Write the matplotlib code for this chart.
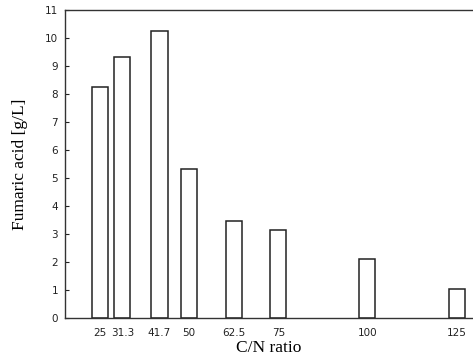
import matplotlib
matplotlib.use("Agg")
from matplotlib import pyplot as plt

cn_ratio = [25, 31.3, 41.7, 50, 62.5, 75, 100, 125]
cn_labels = ["25", "31.3", "41.7", "50", "62.5", "75", "100", "125"]
fumaric = [8.25, 9.32, 10.25, 5.31, 3.46, 3.14, 2.12, 1.05]

fig = plt.figure(figsize=(4.73, 3.63), dpi=100)
ax = fig.add_axes([65 / 473, 45 / 363, 408 / 473, 308 / 363])

ax.bar(cn_ratio, fumaric, width=4.5, facecolor="white", edgecolor="#222222", linewidth=1.1)

ax.set_xlim(15.2, 129.6)
ax.set_ylim(0, 11)
ax.set_yticks(range(0, 12))
ax.set_xticks(cn_ratio)
ax.set_xticklabels(cn_labels)

ax.spines["right"].set_visible(False)
for s in ["left", "top", "bottom"]:
    ax.spines[s].set_color("#333333")
    ax.spines[s].set_linewidth(1.0)

ax.tick_params(axis="y", direction="in", length=3, width=0.8, labelsize=7.5, pad=5, colors="#222222")
ax.tick_params(axis="x", length=0, labelsize=7.5, pad=7, colors="#222222")

ax.set_ylabel("Fumaric acid [g/L]", family="Liberation Serif", fontsize=12.5, labelpad=12)
ax.set_xlabel("C/N ratio", family="Liberation Serif", fontsize=12.5, labelpad=2)

fig.savefig("out.png", dpi=100)
